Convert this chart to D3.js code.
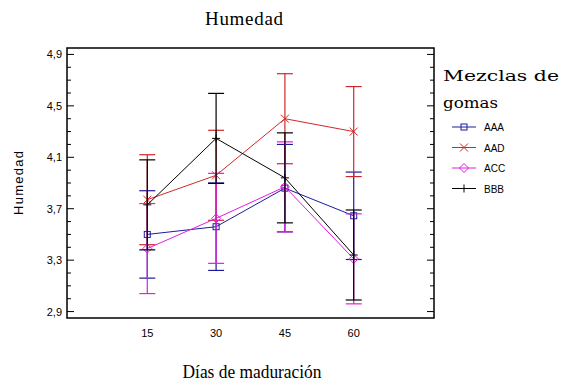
<!DOCTYPE html>
<html>
<head>
<meta charset="utf-8">
<script src="https://cdn.jsdelivr.net/npm/d3@7"></script>
<style>
  body { margin: 0; background: #fff; }
  svg { display: block; }
</style>
</head>
<body>
<div id="chart"></div>
<script>
// datos
const days = [15, 30, 45, 60];
const yTicks = [2.9, 3.3, 3.7, 4.1, 4.5, 4.9];
const seriesNames = ['AAA', 'AAD', 'ACC', 'BBB'];
const seriesColors = ['#1c1c9c', '#d02828', '#e01ee0', '#000000'];
const aaa = [3.50, 3.56, 3.86, 3.645];
const aad = [3.77, 3.96, 4.40, 4.30];
const acc = [3.39, 3.625, 3.87, 3.31];
const bbb = [3.73, 4.247, 3.94, 3.34];
const halfWidth = [0.34, 0.35, 0.35, 0.35];

const W = 571, H = 383;
const plotL = 67, plotR = 434, plotT = 48, plotB = 318;

const svg = d3.select('#chart').append('svg')
  .attr('width', W).attr('height', H);

const x = d3.scaleLinear().domain([-2.5, 77.5]).range([plotL, plotR]);
const y = d3.scaleLinear().domain([2.85, 4.95]).range([plotB, plotT]);

const serif = 'Liberation Serif, DejaVu Serif, serif';
const serifWide = 'DejaVu Serif, Liberation Serif, serif';
const sans = 'Liberation Sans, Arial, sans-serif';

// titulo
svg.append('text')
  .attr('x', 244).attr('y', 25)
  .attr('text-anchor', 'middle')
  .attr('textLength', 78).attr('lengthAdjust', 'spacing')
  .style('font-family', serif).style('font-size', '19px')
  .text('Humedad');

// ejes y (ticks hacia dentro)
const minor = d3.range(29, 50).map(d => d / 10);
function yAxis(side) {
  const g = svg.append('g');
  const dir = side === 'left' ? 1 : -1;
  const x0 = side === 'left' ? plotL : plotR;
  g.selectAll('line').data(minor).enter().append('line')
    .attr('x1', x0).attr('x2', d => x0 + dir * (yTicks.some(t => Math.abs(t - d) < 1e-6) ? 7 : 4))
    .attr('y1', d => y(d)).attr('y2', d => y(d))
    .attr('stroke', '#000').attr('stroke-width', 1);
}
yAxis('left');
yAxis('right');

svg.append('g').selectAll('text').data(yTicks).enter().append('text')
  .attr('x', plotL - 5).attr('y', d => y(d) + 4)
  .attr('text-anchor', 'end')
  .style('font-family', sans).style('font-size', '11px')
  .text(d => d3.format('.1f')(d).replace('.', ','));

svg.append('g').selectAll('text').data(days).enter().append('text')
  .attr('x', d => x(d)).attr('y', plotB + 19)
  .attr('text-anchor', 'middle')
  .style('font-family', sans).style('font-size', '11px')
  .text(d => d);

svg.append('text')
  .attr('transform', 'translate(23,' + ((plotT + plotB) / 2) + ') rotate(-90)')
  .attr('text-anchor', 'middle')
  .attr('textLength', 64).attr('lengthAdjust', 'spacing')
  .style('font-family', sans).style('font-size', '13px')
  .text('Humedad');

svg.append('text')
  .attr('x', 252).attr('y', 378)
  .attr('text-anchor', 'middle')
  .attr('textLength', 139).attr('lengthAdjust', 'spacingAndGlyphs')
  .style('font-family', serif).style('font-size', '19px')
  .text('Días de maduración');

// marcadores
function marker(g, name, cx, cy, color) {
  if (name === 'AAA') {
    g.append('rect').attr('x', cx - 3).attr('y', cy - 3).attr('width', 6).attr('height', 6)
      .attr('fill', 'none').attr('stroke', color);
  } else if (name === 'AAD') {
    g.append('path').attr('d', `M${cx - 4},${cy - 4}L${cx + 4},${cy + 4}M${cx - 4},${cy + 4}L${cx + 4},${cy - 4}`)
      .attr('stroke', color);
  } else if (name === 'ACC') {
    g.append('path').attr('d', `M${cx},${cy - 4.5}L${cx + 4.5},${cy}L${cx},${cy + 4.5}L${cx - 4.5},${cy}Z`)
      .attr('fill', 'none').attr('stroke', color);
  } else {
    g.append('path').attr('d', `M${cx - 4},${cy}L${cx + 4},${cy}M${cx},${cy - 4}L${cx},${cy + 4}`)
      .attr('stroke', color);
  }
}

const allSeries = [aaa, aad, acc, bbb];
allSeries.forEach((vals, i) => {
  const color = seriesColors[i];
  const g = svg.append('g');
  const hw = halfWidth[i];
  vals.forEach((v, j) => {
    const cx = x(days[j]);
    g.append('line').attr('x1', cx).attr('x2', cx)
      .attr('y1', y(v - hw)).attr('y2', y(v + hw))
      .attr('stroke', color).attr('stroke-width', 1.2);
    [v - hw, v + hw].forEach(e => {
      g.append('line').attr('x1', cx - 8).attr('x2', cx + 8)
        .attr('y1', y(e)).attr('y2', y(e))
        .attr('stroke', color).attr('stroke-width', 1.2);
    });
  });
  g.append('path')
    .datum(vals)
    .attr('fill', 'none').attr('stroke', color).attr('stroke-width', 1)
    .attr('d', d3.line().x((d, j) => x(days[j])).y(d => y(d)));
  vals.forEach((v, j) => marker(g, seriesNames[i], x(days[j]), y(v), color));
});

// marco
svg.append('rect')
  .attr('x', plotL).attr('y', plotT)
  .attr('width', plotR - plotL).attr('height', plotB - plotT)
  .attr('fill', 'none').attr('stroke', '#000').attr('stroke-width', 1.5);

// leyenda
const lx = 443;
svg.append('text').attr('x', lx).attr('y', 81)
  .attr('textLength', 116).attr('lengthAdjust', 'spacingAndGlyphs')
  .style('font-family', serifWide).style('font-size', '15px')
  .text('Mezclas de');
svg.append('text').attr('x', lx).attr('y', 108)
  .attr('textLength', 55).attr('lengthAdjust', 'spacingAndGlyphs')
  .style('font-family', serifWide).style('font-size', '15px')
  .text('gomas');
seriesNames.forEach((name, i) => {
  const ly = 127 + i * 20.5;
  const g = svg.append('g');
  g.append('line').attr('x1', lx + 9).attr('x2', lx + 33)
    .attr('y1', ly).attr('y2', ly).attr('stroke', seriesColors[i]).attr('stroke-width', 1);
  marker(g, name, lx + 21, ly, seriesColors[i]);
  g.append('text').attr('x', lx + 41).attr('y', ly + 4)
    .style('font-family', sans).style('font-size', '10px').text(name);
});
</script>
</body>
</html>
